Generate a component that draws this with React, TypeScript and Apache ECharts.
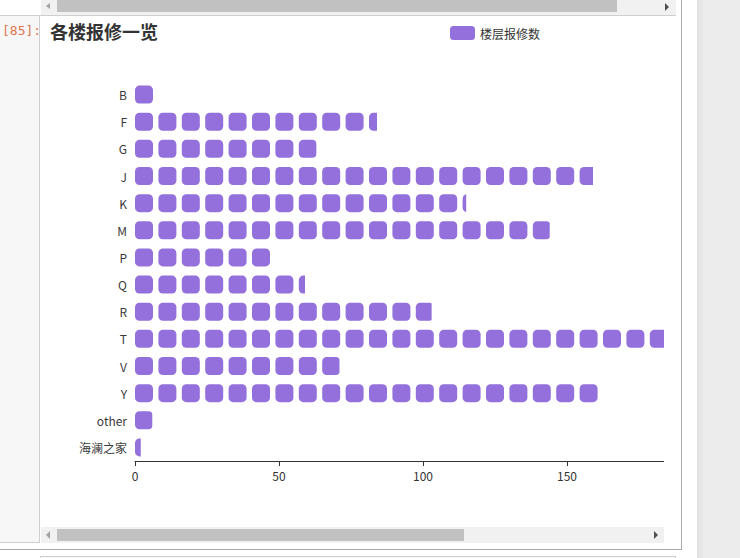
import React, { useEffect, useRef } from "react";
import * as echarts from "echarts";

const categories = ["B", "F", "G", "J", "K", "M", "P", "Q", "R", "T", "V", "Y", "other", "海澜之家"];
const repairCounts = [7, 84, 63, 159, 115, 144, 47, 59, 103, 205, 71, 161, 6, 2];
const seriesName = "楼层报修数";
const titleText = "各楼报修一览";

function Chart() {
  const ref = useRef<HTMLDivElement>(null);
  useEffect(() => {
    if (!ref.current) return;
    const chart = echarts.init(ref.current, null, { renderer: "svg" });
    const font = "'Microsoft YaHei', 'Noto Sans CJK SC', sans-serif";
    chart.setOption({
      animation: false,
      textStyle: { fontFamily: font },
      title: {
        text: titleText,
        left: 0,
        top: 0,
        padding: [5, 5, 5, 5],
        textStyle: { fontSize: 18, fontWeight: "bold", color: "#333", fontFamily: font },
      },
      legend: {
        top: 4,
        left: "center",
        icon: "roundRect",
        itemWidth: 25,
        itemHeight: 14,
        textStyle: { color: "#333", fontSize: 12, fontFamily: font },
        data: [seriesName],
      },
      grid: { left: 90, right: 90, top: 64, bottom: 56, containLabel: false },
      xAxis: {
        type: "value",
        min: 0,
        max: 250,
        interval: 50,
        splitLine: { show: false },
        axisLine: { show: true, lineStyle: { color: "#333" } },
        axisTick: { show: true, lineStyle: { color: "#333" } },
        axisLabel: { color: "#333", fontSize: 12, margin: 8 },
      },
      yAxis: {
        type: "category",
        data: categories,
        inverse: true,
        axisTick: { show: false },
        axisLine: { show: true, lineStyle: { opacity: 0 } },
        axisLabel: { color: "#3a3a3a", fontSize: 12, margin: 8 },
        splitLine: { show: false },
      },
      series: [
        {
          name: seriesName,
          type: "pictorialBar",
          data: repairCounts,
          symbol: "roundRect",
          symbolSize: 18,
          symbolRepeat: "fixed",
          symbolOffset: [0, 0],
          symbolClip: true,
          label: { show: false },
          itemStyle: { color: "#9370db" },
        },
      ],
    });
    return () => chart.dispose();
  }, []);
  return <div ref={ref} style={{ position: "absolute", left: 5, top: 17, width: 900, height: 500 }} />;
}

export default function App() {
  const abs = (s: React.CSSProperties): React.CSSProperties => ({ position: "absolute", ...s });
  return (
    <div style={{ position: "fixed", left: 0, top: 0, width: 740, height: 558, overflow: "hidden", background: "#fff" }}>
      {/* right notebook background */}
      <div style={abs({ left: 697, top: 0, width: 43, height: 558, background: "linear-gradient(to right, #e0e0e0, #ececec 8px, #ececec)" })} />
      {/* chart scroll area */}
      <div style={abs({ left: 40, top: 0, width: 624, height: 527, overflow: "hidden" })}>
        <Chart />
      </div>
      {/* top scrollbar of previous output */}
      <div style={abs({ left: 41, top: 0, width: 635, height: 15, background: "#f1f1f1" })} />
      <div style={abs({ left: 57, top: 0, width: 560, height: 12, background: "#c1c1c1" })} />
      <div style={abs({ left: 46, top: 3, width: 0, height: 0, borderTop: "3px solid transparent", borderBottom: "3px solid transparent", borderRight: "4px solid #a3a3a3" })} />
      <div style={abs({ left: 665, top: 3, width: 0, height: 0, borderTop: "4px solid transparent", borderBottom: "4px solid transparent", borderLeft: "4px solid #505050" })} />
      <div style={abs({ left: 40, top: 15, width: 636, height: 1, background: "#cfcfcf" })} />
      {/* prompt area */}
      <div style={abs({ left: 0, top: 15, width: 40, height: 528, background: "#f7f7f7", borderTop: "1px solid #cfcfcf", borderRight: "1px solid #cfcfcf", borderBottom: "1px solid #cfcfcf", boxSizing: "border-box" })} />
      <div style={abs({ left: 2, top: 22, fontFamily: "'DejaVu Sans Mono', monospace", fontSize: 13, color: "#e0764f", lineHeight: "18px" })}>[85]:</div>
      {/* cell border */}
      <div style={abs({ left: 681, top: 0, width: 1, height: 549, background: "#ababab" })} />
      <div style={abs({ left: 0, top: 549, width: 682, height: 1, background: "#ababab" })} />
      {/* next cell */}
      <div style={abs({ left: 40, top: 556, width: 636, height: 10, background: "#f7f7f7", border: "1px solid #cfcfcf", boxSizing: "border-box" })} />
      {/* bottom scrollbar */}
      <div style={abs({ left: 41, top: 527, width: 623, height: 16, background: "#f1f1f1" })} />
      <div style={abs({ left: 57, top: 529, width: 407, height: 12, background: "#c1c1c1" })} />
      <div style={abs({ left: 46, top: 531, width: 0, height: 0, borderTop: "4px solid transparent", borderBottom: "4px solid transparent", borderRight: "4px solid #a3a3a3" })} />
      <div style={abs({ left: 654, top: 531, width: 0, height: 0, borderTop: "4px solid transparent", borderBottom: "4px solid transparent", borderLeft: "4px solid #505050" })} />
    </div>
  );
}
